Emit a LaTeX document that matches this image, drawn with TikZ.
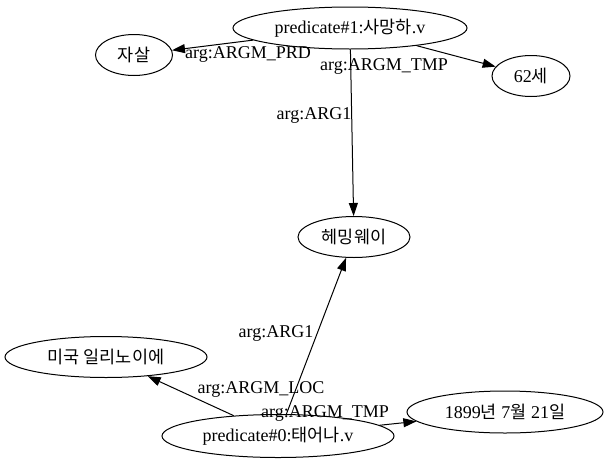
\documentclass[tikz,border=0pt]{standalone}
\usepackage{fontspec}
\setmainfont{Liberation Serif}
\newfontfamily\kr[Scale=0.97]{Noto Sans CJK KR}
\usetikzlibrary{arrows.meta,shapes.geometric}
\begin{document}
\begin{tikzpicture}[x=1pt,y=-1pt,
  every node/.style={font=\fontsize{18}{21}\selectfont},
  ent/.style={ellipse, draw, line width=1pt, inner sep=0pt},
  lbl/.style={inner sep=0pt},
  edge/.style={draw, line width=1pt, -{Triangle[length=13pt,width=9pt]}}]
\useasboundingbox (0,0) rectangle (607,466);
\node[ent, minimum width=234pt, minimum height=42pt] (p1) at (350,28) {predicate\#1:{\kr 사망하}.v};
\node[ent, minimum width=77pt, minimum height=41pt] (jasal) at (134,55) {{\kr 자살}};
\node[ent, minimum width=78pt, minimum height=41pt] (age) at (531,76) {62{\kr 세}};
\node[ent, minimum width=112pt, minimum height=41pt] (hem) at (354,237) {{\kr 헤밍웨이}};
\node[ent, minimum width=202pt, minimum height=41pt] (usa) at (106,357) {{\kr 미국 일리노이에}};
\node[ent, minimum width=232pt, minimum height=43pt] (p0) at (278,436) {predicate\#0:{\kr 태어나}.v};
\node[ent, minimum width=196pt, minimum height=42pt] (date) at (505,412) {1899{\kr 년} 7{\kr 월} 21{\kr 일}};
\draw[edge] (p1) -- (jasal);
\draw[edge] (p1) -- (age);
\draw[edge] (p1) -- (hem);
\draw[edge] (p0) -- (usa);
\draw[edge] (p0) -- (hem);
\draw[edge] (p0) -- (date);
\node[lbl] (l1) at (248,54) {arg:ARGM\_PRD};
\node[lbl] (l2) at (384,66) {arg:ARGM\_TMP};
\node[lbl] (l3) at (314,115) {arg:ARG1};
\node[lbl] (l4) at (276,333) {arg:ARG1};
\node[lbl] (l5) at (261,389) {arg:ARGM\_LOC};
\node[lbl] (l6) at (325,413) {arg:ARGM\_TMP};
\end{tikzpicture}
\end{document}
